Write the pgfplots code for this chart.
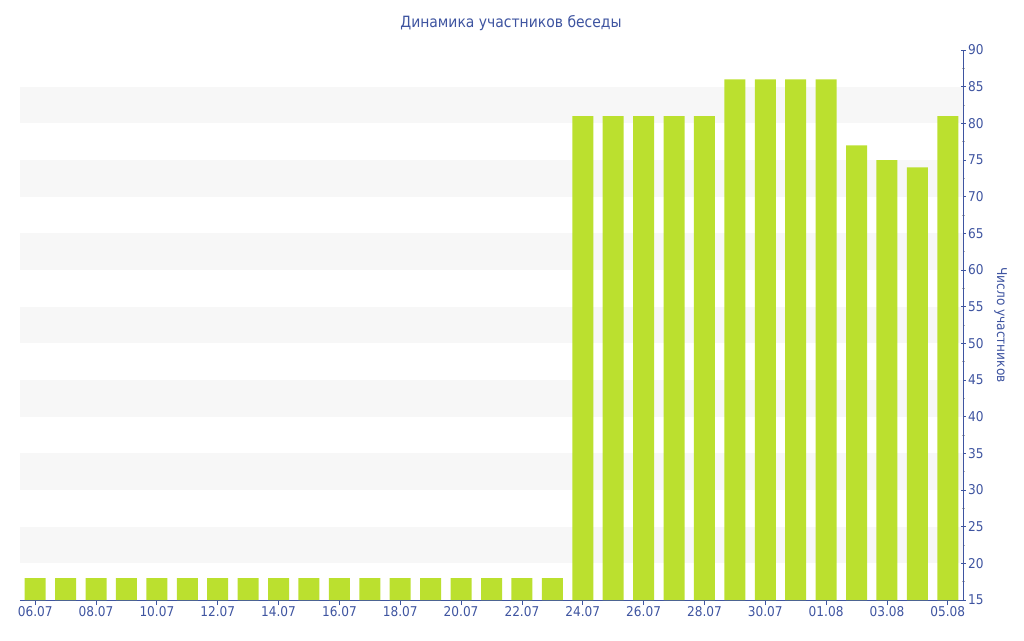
\documentclass[border=0pt]{standalone}
\usepackage{fontspec}
\setmainfont{DejaVu Sans Condensed}
\usepackage{pgfplots}
\pgfplotsset{compat=1.18}
\definecolor{txt}{RGB}{62,84,160}
\definecolor{barc}{RGB}{187,224,47}
\definecolor{band}{RGB}{247,247,247}
\begin{document}
\begin{tikzpicture}[x=1pt,y=1pt]
\path[use as bounding box] (0,0) rectangle (1024,640);
\node[text=txt, font=\fontsize{15.5}{15.5}\selectfont] at (511,617) {Динамика участников беседы};
\begin{axis}[
  at={(20pt,40pt)}, anchor=south west,
  scale only axis, width=943pt, height=550pt,
  xmin=-0.5, xmax=30.5, ymin=15, ymax=90,
  axis y line*=right, axis x line*=bottom,
  axis line style={draw=txt, line width=1pt, -},
  ytick={15,20,...,90}, minor y tick num=1,
  xtick={0,2,...,30},
  xticklabels={06.07,08.07,10.07,12.07,14.07,16.07,18.07,20.07,22.07,24.07,26.07,28.07,30.07,01.08,03.08,05.08},
  x tick style={draw=txt, line width=0.8pt},
  y tick style={draw=txt, line width=0.8pt},
  minor y tick style={draw=gray!60, line width=0.8pt},
  xtick align=outside, ytick align=center,
  major tick length=5pt, minor tick length=3pt,
  ticklabel style={font=\fontsize{13.5}{13.5}\selectfont, text=txt},
  /pgf/number format/assume math mode=true,
  xticklabel style={yshift=2pt},
  yticklabel style={xshift=-1pt},
  ylabel={Число участников},
  ylabel style={rotate=180, text=txt, font=\fontsize{13.5}{13.5}\selectfont, yshift=4pt},
  ybar, bar width=21pt,
  enlargelimits=false,
  clip=false,
]
\foreach \y in {20,30,...,80} {
  \edef\temp{\noexpand\fill[band] (axis cs:-0.5,\y) rectangle (axis cs:30.5,\y+5);}
  \temp
}
\addplot[fill=barc, draw=none] coordinates {
(0,18) (1,18) (2,18) (3,18) (4,18) (5,18) (6,18) (7,18) (8,18) (9,18)
(10,18) (11,18) (12,18) (13,18) (14,18) (15,18) (16,18) (17,18)
(18,81) (19,81) (20,81) (21,81) (22,81)
(23,86) (24,86) (25,86) (26,86)
(27,77) (28,75) (29,74) (30,81)
};
\end{axis}
\end{tikzpicture}
\end{document}
